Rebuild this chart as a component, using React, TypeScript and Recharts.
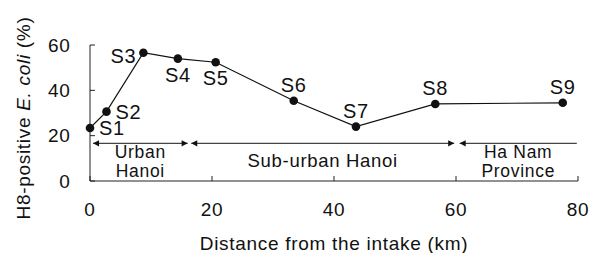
import { LineChart, Line, XAxis, YAxis, ReferenceLine, LabelList } from 'recharts'

// sampling sites along the river
const sites = ['S1', 'S2', 'S3', 'S4', 'S5', 'S6', 'S7', 'S8', 'S9']
const distanceKm = [0, 2.7, 8.75, 14.4, 20.6, 33.4, 43.6, 56.6, 77.5]
const h8Percent = [23.4, 30.6, 56.6, 54, 52.4, 35.4, 24, 34, 34.5]

const xTicks = [0, 20, 40, 60, 80]
const yTicks = [0, 20, 40, 60]

const regionNames = ['Urban\nHanoi', 'Sub-urban Hanoi', 'Ha Nam\nProvince']
const regionStartKm = [0.5, 16.6, 60.6]
const regionEndKm = [16, 59.7, 79.8]
const regionArrowAt = 16.6

const chartData = sites.map((site, i) => ({ site, km: distanceKm[i], pct: h8Percent[i] }))

const INK = '#111'
const ARROW = '#444'

// where each site name sits relative to its dot
const labelSide: Record<string, 'right' | 'left' | 'above' | 'below'> = {
  S1: 'right',
  S2: 'right',
  S3: 'left',
  S4: 'below',
  S5: 'below',
  S6: 'above',
  S7: 'above',
  S8: 'above',
  S9: 'above',
}

function SiteLabel(props: any) {
  const { x, y, value } = props
  const side = labelSide[value] ?? 'above'
  let tx = x
  let ty = y - 9
  let anchor: 'start' | 'middle' | 'end' = 'middle'
  if (side === 'right') {
    tx = x + 9
    ty = y + 7
    anchor = 'start'
  } else if (side === 'left') {
    tx = x - 7
    ty = y + 10.5
    anchor = 'end'
  } else if (side === 'below') {
    ty = y + 23
  }
  return (
    <text x={tx} y={ty} textAnchor={anchor} fontSize={20} fill={INK}>
      {value}
    </text>
  )
}

function regionShape(i: number) {
  return (props: any) => {
    const { x1, y1, x2 } = props
    const lines = regionNames[i].split('\n')
    const mid = (x1 + x2) / 2
    const withEndHead = i < regionNames.length - 1
    const firstBaseline = lines.length > 1 ? y1 + 14.5 : y1 + 23.4
    return (
      <g>
        <line x1={x1} y1={y1} x2={x2} y2={y1} stroke={ARROW} strokeWidth={1.2} />
        <polygon points={`${x1},${y1} ${x1 + 6},${y1 - 3.2} ${x1 + 6},${y1 + 3.2}`} fill={INK} />
        {withEndHead && (
          <polygon points={`${x2},${y1} ${x2 - 6},${y1 - 3.2} ${x2 - 6},${y1 + 3.2}`} fill={INK} />
        )}
        <text x={mid} y={firstBaseline} textAnchor="middle" fontSize={lines.length > 1 ? 17.5 : 18.5} fill={INK}>
          {lines.map((t, k) => (
            <tspan key={k} x={mid} dy={k === 0 ? 0 : 19.5}>
              {t}
            </tspan>
          ))}
        </text>
      </g>
    )
  }
}

function YTitle(props: any) {
  const vb = props.viewBox
  const cx = vb.x + 30
  const cy = vb.y + vb.height / 2 + 5
  return (
    <text
      x={cx}
      y={cy}
      transform={`rotate(-90, ${cx}, ${cy})`}
      textAnchor="middle"
      fontSize={19}
      fill={INK}
    >
      H8-positive <tspan fontStyle="italic">E. coli</tspan> (%)
    </text>
  )
}

export default function App() {
  return (
    <div
      style={{
        position: 'absolute',
        left: 0,
        top: 0,
        width: 591,
        height: 253,
        background: '#fff',
        fontFamily: '"Liberation Sans", Arial, sans-serif',
        letterSpacing: '0.7px',
      }}
    >
      <LineChart width={591} height={253} data={chartData} margin={{ top: 45, right: 13, left: 0, bottom: 0 }}>
        <XAxis
          dataKey="km"
          type="number"
          domain={[0, 80]}
          ticks={xTicks}
          height={72}
          tickSize={-5}
          tickMargin={26.5}
          stroke="#222"
          tick={{ fill: INK, fontSize: 19 }}
          label={{ value: 'Distance from the intake (km)', position: 'insideBottom', offset: 3, fill: INK, fontSize: 19 }}
        />
        <YAxis
          type="number"
          domain={[0, 60]}
          ticks={yTicks}
          width={90}
          tickSize={-5}
          tickMargin={24.5}
          stroke="#222"
          tick={{ fill: INK, fontSize: 19 }}
          label={{ content: YTitle }}
        />
        {regionNames.map((name, i) => (
          <ReferenceLine
            key={name}
            segment={[
              { x: regionStartKm[i], y: regionArrowAt },
              { x: regionEndKm[i], y: regionArrowAt },
            ]}
            shape={regionShape(i)}
          />
        ))}
        <Line
          dataKey="pct"
          stroke={INK}
          strokeWidth={1.2}
          dot={{ r: 4.3, fill: INK, stroke: INK, strokeWidth: 0 }}
          activeDot={false}
          isAnimationActive={false}
        >
          <LabelList dataKey="site" content={SiteLabel} />
        </Line>
      </LineChart>
    </div>
  )
}
